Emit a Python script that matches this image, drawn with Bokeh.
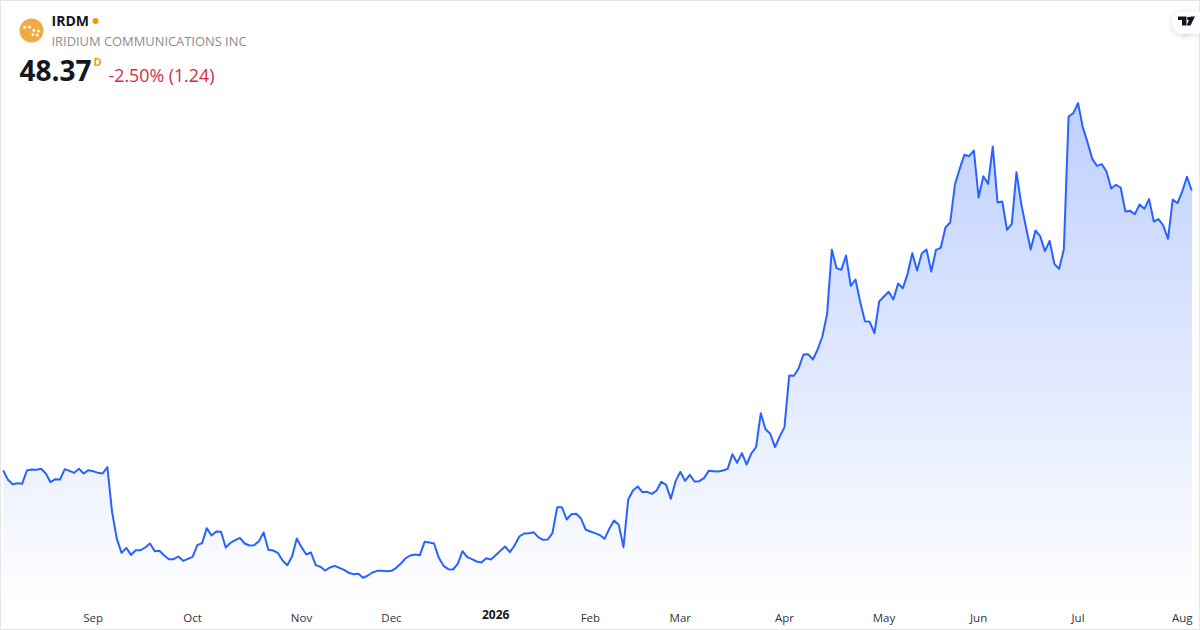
import numpy as np
from bokeh.plotting import figure
from bokeh.models import Label, FixedTicker, Range1d, LinearAxis
from bokeh.embed import file_html
from bokeh.resources import INLINE

ticker = "IRDM"
company = "IRIDIUM COMMUNICATIONS INC"
last_price = "48.37"
change_text = "-2.50% (1.24)"
tick_positions = [19, 40, 63, 82, 124, 143, 165, 186, 206, 227, 249]
tick_labels = ["Sep", "Oct", "Nov", "Dec", "Feb", "Mar", "Apr", "May", "Jun", "Jul", "Aug"]
year_position = 104
year_label = "2026"

close = [
 23.17,22.33,21.94,22.03,21.97,23.17,23.26,23.23,23.32,22.90,22.12,22.39,22.36,23.29,23.14,22.96,23.32,22.90,23.20,23.11,
 22.96,22.90,23.47,19.42,17.02,15.76,16.21,15.58,16.00,16.00,16.24,16.60,15.91,15.94,15.52,15.19,15.19,15.43,15.04,15.22,
 15.40,16.45,16.63,17.98,17.32,17.68,17.65,16.24,16.66,16.90,17.11,16.60,16.42,16.45,16.81,17.59,16.03,15.97,15.76,15.07,
 14.65,15.43,17.05,16.27,15.61,15.79,14.65,14.50,14.17,14.44,14.59,14.41,14.23,13.96,13.84,13.87,13.51,13.72,13.99,14.14,
 14.14,14.11,14.14,14.41,14.80,15.28,15.52,15.61,15.55,16.75,16.69,16.60,15.31,14.59,14.29,14.26,14.77,15.91,15.37,15.19,
 14.98,14.89,15.28,15.16,15.55,15.94,16.33,15.82,16.42,17.23,17.50,17.53,17.62,17.17,16.93,16.96,17.53,19.87,19.87,18.76,
 19.24,19.27,18.88,17.86,17.68,17.53,17.36,17.02,17.92,18.67,18.28,16.27,20.56,21.37,21.73,21.22,21.25,21.07,21.37,22.15,
 21.88,20.62,22.21,23.05,22.24,22.78,22.18,22.21,22.48,23.14,23.11,23.08,23.17,23.32,24.64,23.86,24.73,23.71,24.70,25.27,
 28.33,26.89,26.47,25.27,26.23,27.07,31.72,31.69,32.38,33.61,33.64,33.16,34.06,35.23,37.27,43.03,41.38,41.23,42.52,39.79,
 40.36,38.32,36.61,36.55,35.53,38.38,38.83,39.25,38.56,40.00,39.58,40.87,42.73,41.17,42.70,43.06,41.08,43.03,43.21,45.04,
 45.49,48.91,50.32,51.58,51.46,51.97,47.74,49.66,48.97,52.33,47.29,47.38,44.83,45.37,50.02,47.17,45.07,43.06,44.77,44.26,
 42.91,43.84,41.77,41.32,43.06,55.03,55.33,56.23,54.07,52.72,51.22,50.59,50.74,50.08,48.55,48.88,48.64,46.48,46.54,46.24,
 47.11,46.72,47.59,45.58,45.79,45.22,44.02,47.56,47.23,48.28,49.61,48.37,
]

W, H = 1200, 630
BOTTOM = 608
px = lambda x: (x - 2.7) / 4.735
py = lambda y: 65.47 - 0.09 * y

p = figure(width=W, height=H, output_backend="svg", toolbar_location=None, x_axis_location=None, y_axis_location=None,
           x_range=Range1d(px(0), px(W)), y_range=Range1d(py(H), py(0)),
           min_border=0, background_fill_color="white",
           border_fill_color="white", outline_line_color="#E6E6E8")
p.grid.visible = False


def make_axis(ticks, overrides, bold):
    ax = LinearAxis(ticker=FixedTicker(ticks=ticks), major_label_overrides=overrides, fixed_location=py(BOTTOM))
    ax.axis_line_color = None
    ax.major_tick_line_color = None
    ax.minor_tick_line_color = None
    ax.major_tick_out = 0
    ax.major_tick_in = 0
    ax.minor_tick_out = 0
    ax.major_label_standoff = 1
    ax.major_label_text_font = "Open Sans"
    ax.major_label_text_font_size = "12px" if bold else "11.5px"
    ax.major_label_text_font_style = "bold" if bold else "normal"
    ax.major_label_text_color = "#131722" if bold else "#30333C"
    p.add_layout(ax, "below")


make_axis(tick_positions, dict(zip(tick_positions, tick_labels)), False)
make_axis([year_position], {year_position: year_label}, True)

xs = np.arange(len(close))
vals = np.array(close)
N = 70
levels = np.linspace(py(BOTTOM), np.max(vals) + 0.1, N + 1)[1:]
for k in range(N - 1, -1, -1):
    a = 0.3 * (k + 0.5) / N
    col = "#%02x%02x%02x" % (round(255 - 214 * a), round(255 - 157 * a), 255)
    p.varea(xs, np.full(len(xs), py(BOTTOM)), np.minimum(vals, levels[k]), fill_color=col, fill_alpha=1)
p.line(xs, vals, line_color="#2962FF", line_width=2, line_join="round")


def lab(text, x, y, size, color, bold=False):
    p.add_layout(Label(x=x, y=H - y, x_units="screen", y_units="screen", text=text,
                       text_font="Open Sans", text_font_size=size, text_color=color,
                       text_font_style="bold" if bold else "normal",
                       text_baseline="middle", text_align="left"))


lab(ticker, 51, 20, "14px", "#131722", bold=True)
lab(company, 51, 40, "12.9px", "#8A8D96")
lab(last_price, 19, 70, "28px", "#131722", bold=True)
lab("D", 93, 61, "11px", "#FF9800", bold=True)
lab(change_text, 108, 74, "17.8px", "#D12E41")

# logo and status dot
p.scatter([px(31)], [py(30)], size=24, fill_color="#F0AB43", line_color=None)
p.scatter([px(95)], [py(20.5)], size=6, fill_color="#FF9800", line_color=None)
dot_x = [24.3, 29, 33.3, 38, 32.3, 36.7]
dot_y = [26.7, 26.7, 30, 30.7, 34, 34.7]
p.scatter([px(v) for v in dot_x], [py(v) for v in dot_y], size=2.8, fill_color="white", line_color=None)

# attribution pill
for grow, a in [(5, 0.006), (4, 0.008), (3, 0.010), (2, 0.012), (1, 0.014)]:
    p.scatter([px(1182)], [py(23.5)], size=22 + 2 * grow, fill_color="#000000", fill_alpha=a, line_color=None)
    p.patch([px(v) for v in [1182, 1200, 1200, 1182]],
            [py(v) for v in [12.5 - grow, 12.5 - grow, 34.5 + grow, 34.5 + grow]],
            fill_color="#000000", fill_alpha=a, line_color=None)
p.scatter([px(1182)], [py(22)], size=22, fill_color="white", line_color=None)
p.patch([px(v) for v in [1182, 1200, 1200, 1182]], [py(v) for v in [11, 11, 33, 33]],
        fill_color="white", line_color=None)
p.patch([px(v) for v in [1177.5, 1186, 1186, 1181.5, 1181.5, 1177.5]],
        [py(v) for v in [16, 16, 25, 25, 19.5, 19.5]], fill_color="#131722", line_color=None)
p.scatter([px(1188.3)], [py(18)], size=3.6, fill_color="#131722", line_color=None)
p.patch([px(v) for v in [1190, 1194.5, 1190, 1186]], [py(v) for v in [16, 16, 25, 25]],
        fill_color="#131722", line_color=None)

open("out.html", "w").write(file_html(p, INLINE))
